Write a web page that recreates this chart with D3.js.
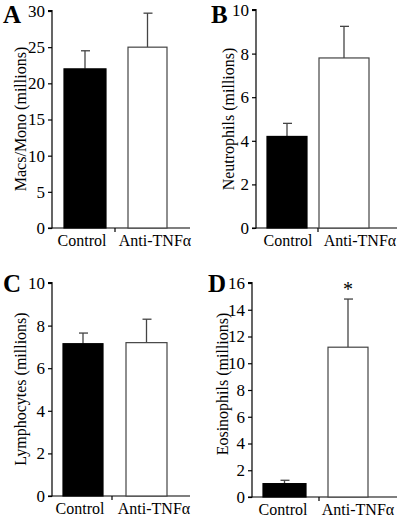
<!DOCTYPE html>
<html><head><meta charset="utf-8">
<script src="https://cdn.jsdelivr.net/npm/d3@7"></script>
<style>body{margin:0;background:#fff}svg{display:block}text{font-family:"Liberation Serif","Times New Roman",serif}</style>
</head><body><svg id="c" width="400" height="518"></svg>
<script>
const categories = ["Control", "Anti-TNFα"];
const panelLetters = ["A", "B", "C", "D"];
const yLabels = ["Macs/Mono (millions)", "Neutrophils (millions)", "Lymphocytes (millions)", "Eosinophils (millions)"];
const controlMeans = [22, 4.2, 7.15, 1.0];
const controlUpper = [24.5, 4.8, 7.65, 1.25];
const antiMeans = [25, 7.8, 7.2, 11.2];
const antiUpper = [29.7, 9.25, 8.3, 14.8];
const yMaxes = [30, 10, 10, 16];
const tickSteps = [5, 2, 2, 2];
const significance = ["", "", "", "*"];

// layout (pixels)
const layouts = [
  {ax:52, top:11, bot:228, right:190, bars:[[64,106],[128,167]], labels:[82,155], mid:115, letter:[3,23], yl:[20,119]},
  {ax:256, top:10, bot:228, right:397, bars:[[267,307],[319,369]], labels:[288,360], mid:318, letter:[211,23], yl:[228,119]},
  {ax:52, top:283, bot:496, right:190, bars:[[63,103],[126,167]], labels:[80,154], mid:112, letter:[3,292], yl:[20,389]},
  {ax:252, top:283, bot:497, right:397, bars:[[263,306],[328,368]], labels:[283,358], mid:319, letter:[208,292], yl:[222,384]}
];

const svg = d3.select("#c");
panelLetters.forEach((L, i) => {
  const lo = layouts[i];
  const g = svg.append("g");
  const y = d3.scaleLinear().domain([0, yMaxes[i]]).range([lo.bot, lo.top]);
  const ticks = d3.range(0, yMaxes[i] + 1e-9, tickSteps[i]);
  const yAxis = d3.axisLeft(y).tickValues(ticks).tickSize(4).tickPadding(3).tickFormat(d3.format("d"));
  const ag = g.append("g").attr("transform", `translate(${lo.ax},0)`).call(yAxis);
  ag.select(".domain").attr("stroke", "#000").attr("stroke-width", 1.2).attr("d", `M-4,${lo.bot}H0V${lo.top-0.5}H-4`);
  ag.selectAll(".tick line").attr("stroke", "#000").attr("stroke-width", 1.2);
  ag.selectAll(".tick text").attr("font-size", 17).attr("fill", "#000").style("font-family", '"Liberation Serif",serif');

  // x axis
  const xs = d3.scaleOrdinal().domain(categories).range(lo.bars.map(b => (b[0] + b[1]) / 2));
  const xl = d3.scaleOrdinal().domain(categories).range(lo.labels);
  g.append("line").attr("x1", lo.ax).attr("x2", lo.right).attr("y1", lo.bot).attr("y2", lo.bot)
    .attr("stroke", "#000").attr("stroke-width", 1.2);
  g.append("line").attr("x1", lo.mid).attr("x2", lo.mid).attr("y1", lo.bot).attr("y2", lo.bot + 4)
    .attr("stroke", "#000").attr("stroke-width", 1.2);

  const means = [controlMeans[i], antiMeans[i]];
  const upper = [controlUpper[i], antiUpper[i]];
  categories.forEach((c, j) => {
    const [x0, x1] = lo.bars[j];
    const cx = xs(c);
    g.append("line").attr("x1", cx).attr("x2", cx).attr("y1", y(means[j])).attr("y2", y(upper[j]))
      .attr("stroke", "#444").attr("stroke-width", 1.3);
    g.append("line").attr("x1", cx - 4).attr("x2", cx + 5).attr("y1", y(upper[j])).attr("y2", y(upper[j]))
      .attr("stroke", "#444").attr("stroke-width", 1.3);
    g.append("rect").attr("x", x0).attr("y", y(means[j])).attr("width", x1 - x0).attr("height", lo.bot - y(means[j]))
      .attr("fill", j === 0 ? "#000" : "#fff").attr("stroke", j === 0 ? "#000" : "#444").attr("stroke-width", 1.2);
    g.append("text").attr("x", xl(c)).attr("y", lo.bot + 18).attr("text-anchor", "middle")
      .attr("font-size", 16).text(c);
  });
  if (significance[i]) {
    g.append("text").attr("x", xs(categories[1])).attr("y", y(antiUpper[i]) - 3).attr("text-anchor", "middle")
      .attr("font-size", 20).text(significance[i]);
  }
  g.append("text").attr("x", lo.letter[0]).attr("y", lo.letter[1]).attr("font-size", 25).attr("font-weight", "bold").text(L);
  g.append("text").attr("transform", `translate(${lo.yl[0]},${lo.yl[1]}) rotate(-90)`)
    .attr("text-anchor", "middle").attr("dy", "0.35em").attr("font-size", 16).text(yLabels[i]);
});
</script></body></html>
